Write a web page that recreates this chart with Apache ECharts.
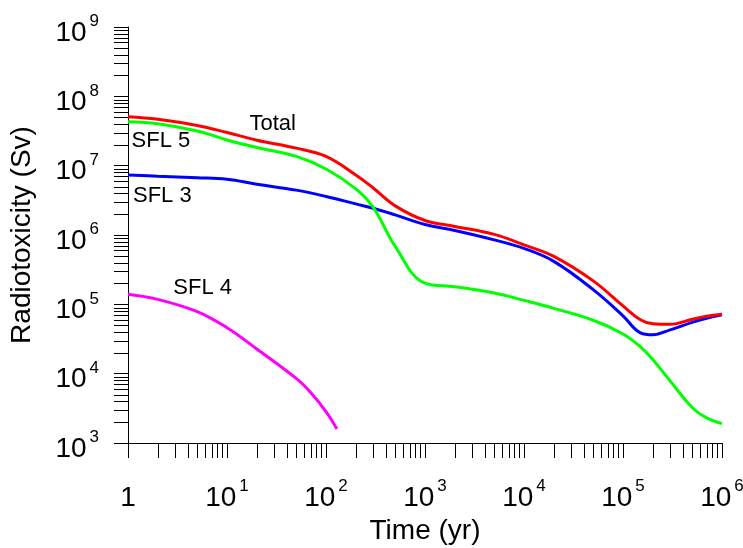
<!DOCTYPE html>
<html><head><meta charset="utf-8">
<script src="https://cdn.jsdelivr.net/npm/echarts@6/dist/echarts.min.js"></script>
<style>html,body{margin:0;padding:0;background:#fff}#c{width:743px;height:548px}</style>
</head><body><div id="c"></div>
<script>
// ---- data ----
const times = [1,2,5,10,20,50,100,200,300,500,1000,2000,5000,1e4,2e4,5e4,1e5,1.5e5,2e5,3e5,5e5,7e5,1e6];
const totalVals = [5.08e7,4.67e7,3.80e7,3.01e7,2.33e7,1.79e7,1.36e7,7.35e6,4.77e6,2.63e6,1.62e6,1.33e6,1.02e6,7.2e5,4.92e5,2.18e5,9.5e4,5.98e4,5.24e4,5.15e4,6.08e4,6.72e4,7.22e4];
const sfl3Vals  = [7.35e6,7.06e6,6.71e6,6.37e6,5.4e6,4.44e6,3.6e6,2.81e6,2.43e6,1.95e6,1.42e6,1.16e6,8.5e5,6.41e5,4.17e5,1.63e5,6.83e4,3.88e4,3.64e4,4.29e4,5.5e4,6.29e4,7.06e4];
const sfl5Vals  = [4.31e7,4.02e7,3.16e7,2.35e7,1.83e7,1.36e7,8.96e6,4.62e6,2.5e6,6.85e5,2.02e5,1.79e5,1.46e5,1.14e5,8.75e4,5.9e4,3.74e4,2.44e4,1.6e4,7.82e3,3.25e3,2.3e3,1.9e3];
const sfl4Times = [1,2,5,10,20,50,70,100,129];
const sfl4Vals  = [1.40e5,1.18e5,7.85e4,4.6e4,2.27e4,8.53e3,5.34e3,2.83e3,1.59e3];
const seriesNames = ['SFL 4','SFL 3','SFL 5','Total'];
const xTicks = [1,10,100,1e3,1e4,1e5,1e6];
const xTickLabels = ['{b|1}','{b|10}{s|1}','{b|10}{s|2}','{b|10}{s|3}','{b|10}{s|4}','{b|10}{s|5}','{b|10}{s|6}'];
const yTicks = [1e3,1e4,1e5,1e6,1e7,1e8,1e9];
const yTickLabels = ['{b|10}{s|3}','{b|10}{s|4}','{b|10}{s|5}','{b|10}{s|6}','{b|10}{s|7}','{b|10}{s|8}','{b|10}{s|9}'];
const xName = 'Time (yr)';
const yName = 'Radiotoxicity (Sv)';

// minor tick values (2..9 x 10^k) inside each decade
function minors(lo, hi){ const r=[]; for(let k=lo;k<hi;k++){for(let m=2;m<=9;m++) r.push(m*Math.pow(10,k));} return r; }
const xMinor = minors(0,6);
const yMinor = minors(3,9);

const FONT = '"Liberation Sans", Arial, Helvetica, sans-serif';
const rich = {
  b: {fontSize: 28, fontFamily: FONT, color: '#000', lineHeight: 28, padding: [12,0,0,0]},
  s: {fontSize: 17, fontFamily: FONT, color: '#000', lineHeight: 17, verticalAlign: 'top', padding: [0,0,0,3]}
};
function idxOf(arr, v){ const e = Math.round(Math.log10(v)); return arr.findIndex(t => Math.round(Math.log10(t)) === e); }

const pair = (ts, vs) => ts.map((t,i) => [t, vs[i]]);
const lineStyleOf = c => ({color: c, width: 3});

const chart = echarts.init(document.getElementById('c'), null, {renderer: 'canvas'});
chart.setOption({
  animation: false,
  backgroundColor: '#fff',
  grid: {left: 128, right: 21, top: 27, bottom: 105, containLabel: false, outerBoundsMode: 'none'},
  xAxis: {
    type: 'log', logBase: 10, min: 1, max: 1e6,
    name: xName, nameLocation: 'middle', nameGap: 74,
    nameTextStyle: {fontSize: 28, fontFamily: FONT, color: '#000', verticalAlign: 'top'},
    axisLine: {show: true, lineStyle: {color: '#000', width: 1}},
    axisTick: {show: true, inside: false, length: 15, lineStyle: {color: '#000'}},
    splitLine: {show: false},
    axisLabel: {margin: 35, formatter: v => xTickLabels[idxOf(xTicks, v)], rich: rich, showMinLabel: true, showMaxLabel: true}
  },
  yAxis: {
    type: 'log', logBase: 10, min: 1e3, max: 1e9,
    name: yName, nameLocation: 'middle', nameGap: 92,
    nameTextStyle: {fontSize: 28, fontFamily: FONT, color: '#000'},
    axisLine: {show: true, lineStyle: {color: '#000', width: 1}},
    axisTick: {show: true, inside: false, length: 14, lineStyle: {color: '#000'}},
    splitLine: {show: false},
    axisLabel: {margin: 29, formatter: v => yTickLabels[idxOf(yTicks, v)], rich: rich, showMinLabel: true, showMaxLabel: true}
  },
  graphic: [
    {type: 'text', left: 249.5, top: 113, style: {text: 'Total', font: '22px ' + FONT, fill: '#000'}},
    {type: 'text', left: 131.6, top: 130, style: {text: 'SFL 5', font: '22px ' + FONT, fill: '#000'}},
    {type: 'text', left: 133, top: 185, style: {text: 'SFL 3', font: '22px ' + FONT, fill: '#000'}},
    {type: 'text', left: 173.3, top: 276.5, style: {text: 'SFL 4', font: '22px ' + FONT, fill: '#000'}}
  ],
  series: [
    {type: 'custom', silent: true, clip: false, z: 1, data: xMinor.map(v => [v, 1e3]),
     renderItem: (p, api) => { const c = api.coord([api.value(0), api.value(1)]); const x = Math.round(c[0]) + 0.5; const y = Math.round(c[1]);
       return {type: 'line', shape: {x1: x, y1: y, x2: x, y2: y + 15}, style: {stroke: '#000', lineWidth: 1}}; }},
    {type: 'custom', silent: true, clip: false, z: 1, data: yMinor.map(v => [1, v]),
     renderItem: (p, api) => { const c = api.coord([api.value(0), api.value(1)]); const x = Math.round(c[0]); const y = Math.round(c[1]) + 0.5;
       return {type: 'line', shape: {x1: x - 14, y1: y, x2: x, y2: y}, style: {stroke: '#000', lineWidth: 1}}; }},
    {name: seriesNames[0], type: 'line', data: pair(sfl4Times, sfl4Vals), smooth: 0.4, symbol: 'none', lineStyle: lineStyleOf('#ff00ff'), z: 3},
    {name: seriesNames[1], type: 'line', data: pair(times, sfl3Vals), smooth: 0.4, symbol: 'none', lineStyle: lineStyleOf('#0000ff'), z: 3},
    {name: seriesNames[2], type: 'line', data: pair(times, sfl5Vals), smooth: 0.4, symbol: 'none', lineStyle: lineStyleOf('#00ff00'), z: 3},
    {name: seriesNames[3], type: 'line', data: pair(times, totalVals), smooth: 0.4, symbol: 'none', lineStyle: lineStyleOf('#ff0000'), z: 3}
  ]
});
</script>
</body></html>
